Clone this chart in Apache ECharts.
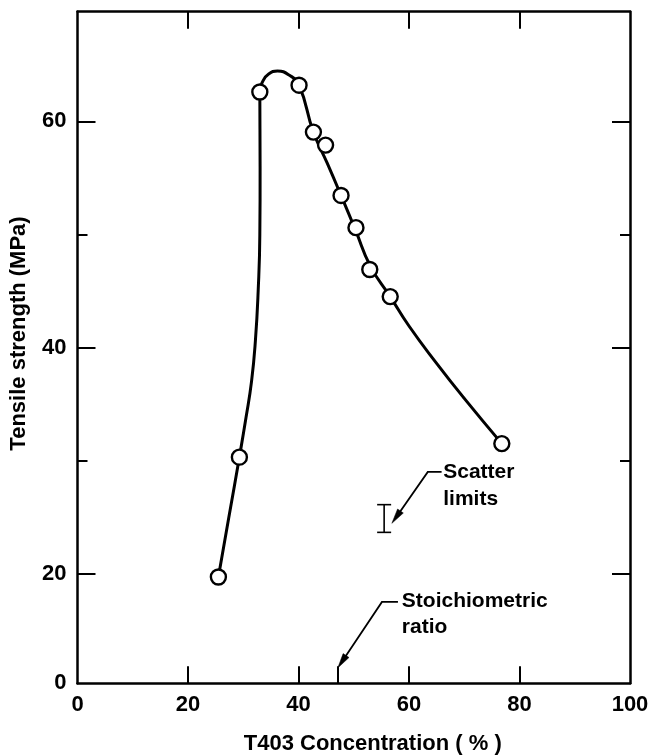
<!DOCTYPE html>
<html>
<head>
<meta charset="utf-8">
<script src="https://cdn.jsdelivr.net/npm/echarts@6/dist/echarts.min.js"></script>
<style>
html,body{margin:0;padding:0;background:#fff;}
#chart{width:650px;height:756px;}
</style>
</head>
<body>
<div id="chart"></div>
<script>
// ---- data ----
const xTickLabels = [0, 20, 40, 60, 80, 100];
const xMajorTicks = [20, 40, 60, 80];
const stoichX = 47.1;
const yMin = 10.3;
const yMax = 69.7;
const yMajorTicks = [20, 40, 60];
const yMinorTicks = [30, 50];
const yLabelValues = [10.3, 20, 40, 60];
const yLabelTexts = ['0', '20', '40', '60'];

// measured points (open circles)
const pointX = [25.5, 29.3, 33.0, 40.1, 42.7, 44.9, 47.7, 50.4, 52.9, 56.6, 76.8];
const pointY = [19.7, 30.3, 62.6, 63.2, 59.05, 57.9, 53.45, 50.6, 46.9, 44.5, 31.5];

// hand-drawn fitted curve
const curveX = [25.5, 27.4, 29.3, 30.5, 31.5, 32.2, 32.7, 33.0, 33.05, 33.0, 33.6, 34.6, 36.2, 38.3, 40.1, 42.7, 45.2, 47.7, 50.3, 53.0, 56.6, 60.0, 65.0, 70.0, 76.8];
const curveY = [19.7, 25.0, 30.3, 33.8, 37.0, 40.6, 45.0, 50.0, 56.0, 62.6, 63.6, 64.2, 64.45, 64.1, 63.2, 59.05, 56.3, 53.45, 50.4, 47.2, 44.5, 41.9, 38.6, 35.5, 31.5];

// scatter limits bar
const scatterBarX = [55.5];
const scatterBarLow = [23.65];
const scatterBarHigh = [26.1];

// annotations
const noteLines = [['Scatter', 'limits'], ['Stoichiometric', 'ratio']];
const noteTextPos = [[[66.2, 29.0], [66.2, 26.6]], [[58.7, 17.6], [58.7, 15.3]]];
const notePaths = [
  [[65.9, 29.0], [63.4, 29.0], [56.9, 24.45]],
  [[58.0, 17.5], [55.1, 17.5], [47.1, 11.65]]
];

// ---- chart ----
const FONT = '"Liberation Sans", Arial, Helvetica, sans-serif';
const black = '#000';
const chart = echarts.init(document.getElementById('chart'), null, {renderer: 'canvas'});

function yAxisCfg(position, ticks, tickLen, showLine, showLabel, named) {
  const cfg = {
    type: 'value', min: yMin, max: yMax, position: position,
    axisLine: {show: showLine, onZero: false, lineStyle: {color: black, width: 2.5}},
    axisTick: {show: true, inside: true, length: tickLen, customValues: ticks, lineStyle: {color: black, width: 2}},
    axisLabel: {
      show: showLabel, customValues: yLabelValues, margin: 11,
      color: black, fontFamily: FONT, fontWeight: 'bold', fontSize: 22,
      formatter: function (v) {
        for (let i = 0; i < yLabelValues.length; i++) {
          if (Math.abs(yLabelValues[i] - v) < 1e-6) return yLabelTexts[i];
        }
        return '';
      }
    },
    splitLine: {show: false}
  };
  if (named) {
    cfg.name = 'Tensile strength (MPa)';
    cfg.nameLocation = 'middle';
    cfg.nameRotate = 90;
    cfg.nameGap = 48;
    cfg.nameTextStyle = {color: black, fontFamily: FONT, fontWeight: 'bold', fontSize: 22, padding: [0, 0, 0, 28]};
  }
  return cfg;
}

const option = {
  backgroundColor: '#fff',
  animation: false,
  grid: {left: 77.5, right: 20, top: 11.7, bottom: 72.7, containLabel: false, outerBoundsMode: 'none'},
  xAxis: [
    {
      type: 'value', min: 0, max: 100, interval: 20, position: 'bottom',
      axisLine: {show: true, onZero: false, lineStyle: {color: black, width: 2.5}},
      axisTick: {show: true, inside: true, length: 17, customValues: xMajorTicks.concat([stoichX]), lineStyle: {color: black, width: 2}},
      axisLabel: {customValues: xTickLabels, margin: 11, color: black, fontFamily: FONT, fontWeight: 'bold', fontSize: 22},
      splitLine: {show: false},
      name: 'T403 Concentration ( % )', nameLocation: 'middle', nameGap: 50,
      nameTextStyle: {color: black, fontFamily: FONT, fontWeight: 'bold', fontSize: 22, padding: [0, 0, 0, 38]}
    },
    {
      type: 'value', min: 0, max: 100, interval: 20, position: 'top',
      axisLine: {show: true, onZero: false, lineStyle: {color: black, width: 2.5}},
      axisTick: {show: true, inside: true, length: 17, customValues: xMajorTicks, lineStyle: {color: black, width: 2}},
      axisLabel: {show: false},
      splitLine: {show: false}
    }
  ],
  yAxis: [
    yAxisCfg('left', yMajorTicks, 18, true, true, true),
    yAxisCfg('left', yMinorTicks, 10, false, false, false),
    yAxisCfg('right', yMajorTicks, 18, true, false, false),
    yAxisCfg('right', yMinorTicks, 10, false, false, false)
  ],
  series: [
    {
      type: 'line', xAxisIndex: 0, yAxisIndex: 0,
      data: curveX.map((x, i) => [x, curveY[i]]),
      smooth: 0.5, showSymbol: false, symbol: 'none',
      lineStyle: {color: black, width: 3}, z: 2
    },
    {
      type: 'scatter', xAxisIndex: 0, yAxisIndex: 0,
      data: pointX.map((x, i) => [x, pointY[i]]),
      symbol: 'circle', symbolSize: 15,
      itemStyle: {color: '#fff', borderColor: black, borderWidth: 2.4, opacity: 1},
      z: 5
    },
    {
      type: 'custom', xAxisIndex: 0, yAxisIndex: 0,
      data: scatterBarX.map((x, i) => [x, scatterBarLow[i], scatterBarHigh[i]]),
      renderItem: function (params, api) {
        const lo = api.coord([api.value(0), api.value(1)]);
        const hi = api.coord([api.value(0), api.value(2)]);
        const hw = 7;
        const st = {stroke: black, lineWidth: 1.6};
        return {
          type: 'group', children: [
            {type: 'line', shape: {x1: lo[0], y1: lo[1], x2: hi[0], y2: hi[1]}, style: st},
            {type: 'line', shape: {x1: lo[0] - hw, y1: lo[1], x2: lo[0] + hw, y2: lo[1]}, style: st},
            {type: 'line', shape: {x1: hi[0] - hw, y1: hi[1], x2: hi[0] + hw, y2: hi[1]}, style: st}
          ]
        };
      },
      z: 4
    },
    {
      type: 'custom', xAxisIndex: 0, yAxisIndex: 0,
      data: notePaths.map((p, i) => [p[0][0], p[0][1], i]),
      renderItem: function (params, api) {
        const i = params.dataIndex;
        const pts = notePaths[i].map(p => api.coord(p));
        const n = pts.length;
        const tip = pts[n - 1], prev = pts[n - 2];
        const dx = tip[0] - prev[0], dy = tip[1] - prev[1];
        const len = Math.sqrt(dx * dx + dy * dy);
        const ux = dx / len, uy = dy / len;
        const aL = 15, aW = 3.5;
        const base = [tip[0] - ux * aL, tip[1] - uy * aL];
        const linePts = pts.slice(0, n - 1).concat([[tip[0] - ux * (aL - 2), tip[1] - uy * (aL - 2)]]);
        const children = [
          {type: 'polyline', shape: {points: linePts}, style: {stroke: black, lineWidth: 1.8, fill: null}},
          {type: 'polygon', shape: {points: [tip, [base[0] - uy * aW, base[1] + ux * aW], [base[0] + uy * aW, base[1] - ux * aW]]}, style: {fill: black, stroke: black, lineWidth: 0.5}}
        ];
        noteLines[i].forEach((t, k) => {
          const p = api.coord(noteTextPos[i][k]);
          children.push({
            type: 'text', x: p[0], y: p[1],
            style: {text: t, fill: black, font: 'bold 21px ' + FONT, textAlign: 'left', textVerticalAlign: 'middle'}
          });
        });
        return {type: 'group', children: children};
      },
      z: 6
    }
  ]
};
chart.setOption(option);
</script>
</body>
</html>
